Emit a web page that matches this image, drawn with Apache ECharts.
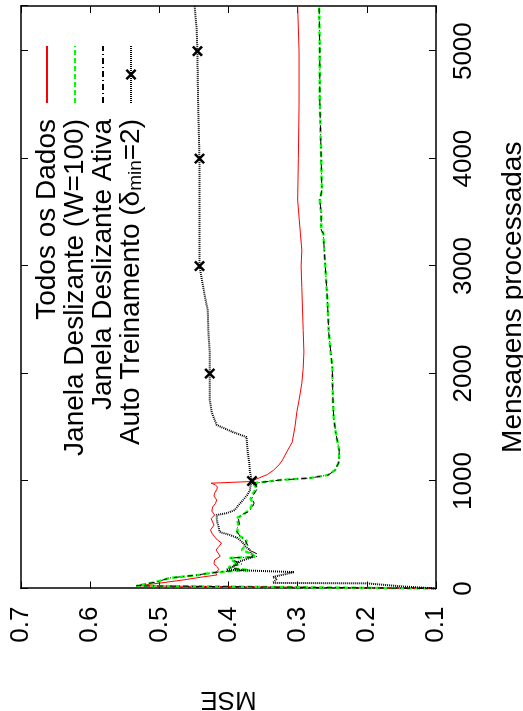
<!DOCTYPE html>
<html><head><meta charset="utf-8">
<script src="https://cdn.jsdelivr.net/npm/echarts@6/dist/echarts.min.js"></script>
<style>
html,body{margin:0;padding:0;width:523px;height:711px;overflow:hidden;background:#fff}
#chart{position:absolute;left:0;top:0;width:711px;height:523px;transform-origin:0 0;transform:translate(0,711px) rotate(-90deg);background:#fff}
</style></head><body><div id="chart"></div>
<script>
// Series: Todos os Dados
const msgR = [0, 25, 50, 79, 105, 126, 150, 175, 200, 230, 265, 300, 330, 358, 390, 423, 451, 480, 516, 545, 563, 590, 619, 650, 684, 720, 758, 790, 823, 860, 888, 920, 944, 965, 980, 995, 1028, 1060, 1100, 1150, 1195, 1280, 1360, 1500, 1650, 1753, 1910, 2050, 2200, 2400, 2600, 2800, 3000, 3149, 3300, 3614, 4000, 4500, 5000, 5420];
const mseR = [0.10, 0.533, 0.50, 0.466, 0.44, 0.417, 0.419, 0.414, 0.416, 0.421, 0.420, 0.412, 0.415, 0.418, 0.414, 0.410, 0.416, 0.420, 0.424, 0.426, 0.427, 0.421, 0.423, 0.425, 0.420, 0.424, 0.423, 0.419, 0.417, 0.421, 0.420, 0.417, 0.416, 0.419, 0.425, 0.369, 0.356, 0.344, 0.335, 0.327, 0.322, 0.315, 0.308, 0.304, 0.301, 0.298, 0.294, 0.292, 0.291, 0.292, 0.293, 0.294, 0.295, 0.294, 0.296, 0.300, 0.299, 0.298, 0.298, 0.300];
// Series: Janela Deslizante (W=100)
const msgG = [0, 25, 60, 98, 126, 144, 160, 172, 185, 200, 230, 260, 285, 293, 320, 358, 400, 451, 500, 544, 600, 656, 690, 712, 750, 795, 835, 870, 910, 935, 960, 981, 990, 1009, 1028, 1056, 1100, 1167, 1195, 1288, 1451, 1595, 1753, 2060, 2377, 2684, 2990, 3307, 3335, 3493, 3614, 3707, 4000, 4544, 5000, 5420];
const mseG = [0.10, 0.533, 0.505, 0.485, 0.442, 0.427, 0.40, 0.37, 0.39, 0.40, 0.385, 0.395, 0.398, 0.362, 0.365, 0.381, 0.375, 0.374, 0.387, 0.387, 0.386, 0.388, 0.378, 0.374, 0.368, 0.365, 0.368, 0.366, 0.362, 0.359, 0.362, 0.366, 0.350, 0.326, 0.282, 0.256, 0.246, 0.241, 0.240, 0.240, 0.245, 0.248, 0.249, 0.250, 0.255, 0.257, 0.260, 0.263, 0.266, 0.266, 0.268, 0.265, 0.266, 0.268, 0.268, 0.269];
// Series: Janela Deslizante Ativa
const msgAt = [0, 25, 60, 98, 126, 144, 160, 172, 185, 200, 230, 260, 285, 293, 320, 358, 400, 451, 500, 544, 600, 656, 690, 712, 750, 795, 835, 870, 910, 935, 960, 981, 990, 1009, 1028, 1056, 1100, 1167, 1195, 1288, 1451, 1595, 1753, 2060, 2377, 2684, 2990, 3307, 3335, 3493, 3614, 3707, 4000, 4544, 5000, 5420];
const mseAt = [0.10, 0.533, 0.505, 0.485, 0.445, 0.427, 0.405, 0.375, 0.392, 0.398, 0.380, 0.392, 0.396, 0.360, 0.358, 0.370, 0.372, 0.376, 0.385, 0.389, 0.384, 0.386, 0.380, 0.372, 0.366, 0.363, 0.366, 0.364, 0.360, 0.358, 0.360, 0.366, 0.350, 0.326, 0.282, 0.256, 0.246, 0.241, 0.240, 0.240, 0.245, 0.248, 0.249, 0.250, 0.255, 0.257, 0.260, 0.263, 0.266, 0.266, 0.268, 0.265, 0.266, 0.268, 0.268, 0.269];
// Series: Auto Treinamento
const msgA = [0, 20, 48, 52, 70, 90, 107, 130, 153, 170, 174, 200, 247, 293, 330, 358, 390, 423, 470, 498, 526, 570, 609, 650, 684, 702, 730, 780, 823, 870, 916, 960, 1000, 1084, 1170, 1260, 1409, 1456, 1521, 1633, 1753, 1900, 2000, 2186, 2377, 2590, 2712, 3000, 3307, 3614, 4000, 4544, 5000, 5200, 5420];
const mseA = [0.10, 0.15, 0.20, 0.336, 0.335, 0.330, 0.336, 0.320, 0.305, 0.304, 0.403, 0.394, 0.386, 0.365, 0.367, 0.369, 0.375, 0.379, 0.387, 0.398, 0.413, 0.414, 0.416, 0.417, 0.417, 0.402, 0.391, 0.385, 0.379, 0.373, 0.369, 0.368, 0.366, 0.369, 0.370, 0.372, 0.374, 0.394, 0.417, 0.424, 0.427, 0.427, 0.427, 0.427, 0.429, 0.430, 0.434, 0.442, 0.442, 0.442, 0.442, 0.444, 0.445, 0.446, 0.449];
const markerMsgs = [1000, 2000, 3000, 4000, 5000];

const names = ['Todos os Dados', 'Janela Deslizante (W=100)', 'Janela Deslizante Ativa', 'Auto Treinamento (δmin=2)'];
const xTitle = 'Mensagens processadas';
const yTitle = 'MSE';

const FONT = 'Liberation Sans';
const pairs = (xs, ys) => xs.map((x, i) => [x, ys[i]]);
const autoData = msgA.map((x, i) => markerMsgs.indexOf(x) >= 0 ? [x, mseA[i]] : { value: [x, mseA[i]], symbol: 'none' });
const XPATH = 'path://M0,1.6L1.6,0L5,3.4L8.4,0L10,1.6L6.6,5L10,8.4L8.4,10L5,6.6L1.6,10L0,8.4L3.4,5Z';

const chart = echarts.init(document.getElementById('chart'), null, { renderer: 'canvas' });
const frameLine = { show: true, onZero: false, lineStyle: { color: '#000', width: 1.5 } };
const tick = { show: true, inside: true, length: 7, lineStyle: { color: '#000', width: 1 } };
chart.setOption({
  animation: false,
  backgroundColor: '#fff',
  grid: { left: 122.5, right: 6, top: 21, bottom: 87, containLabel: false, outerBoundsMode: 'none' },
  legend: {
    orient: 'vertical', right: 40, top: 28, itemWidth: 57, itemHeight: 14, itemGap: 0, align: 'right',
    selectedMode: false,
    textStyle: { fontFamily: FONT, fontSize: 28, color: '#000', lineHeight: 28, padding: [0, 11, 0, 0],
      rich: { sub: { fontFamily: FONT, fontSize: 19, lineHeight: 19, verticalAlign: 'bottom', color: '#000' } } },
    formatter: n => n.replace('δmin', 'δ{sub|min}'),
    data: [
      { name: names[0], itemStyle: { opacity: 0 } },
      { name: names[1], itemStyle: { opacity: 0 } },
      { name: names[2], itemStyle: { opacity: 0 } },
      { name: names[3] }
    ]
  },
  xAxis: [
    { type: 'value', position: 'bottom', min: 0, max: 5420, interval: 1000,
      axisLine: frameLine, axisTick: tick, splitLine: { show: false },
      axisLabel: { fontFamily: FONT, fontSize: 26, color: '#000', margin: 15, showMaxLabel: false,
        formatter: v => (v % 1000 === 0 ? String(v) : '') },
      name: xTitle, nameLocation: 'middle', nameGap: 63,
      nameTextStyle: { fontFamily: FONT, fontSize: 28, color: '#000' } },
    { type: 'value', position: 'top', min: 0, max: 5420, interval: 1000,
      axisLine: frameLine, axisTick: tick, splitLine: { show: false }, axisLabel: { show: false } }
  ],
  yAxis: [
    { type: 'value', position: 'left', min: 0.1, max: 0.7, interval: 0.1,
      axisLine: frameLine, axisTick: tick, splitLine: { show: false },
      axisLabel: { fontFamily: FONT, fontSize: 26, color: '#000', margin: 18, formatter: v => v.toFixed(1) },
      name: yTitle, nameLocation: 'middle', nameGap: 98, nameRotate: 90,
      nameTextStyle: { fontFamily: FONT, fontSize: 26, color: '#000' } },
    { type: 'value', position: 'right', min: 0.1, max: 0.7, interval: 0.1,
      axisLine: frameLine, axisTick: tick, splitLine: { show: false }, axisLabel: { show: false } }
  ],
  series: [
    { name: names[0], type: 'line', data: pairs(msgR, mseR), symbol: 'none', showSymbol: false,
      lineStyle: { color: '#ff0000', width: 1 }, itemStyle: { color: '#ff0000' } },
    { name: names[1], type: 'line', data: pairs(msgG, mseG), symbol: 'none', showSymbol: false,
      lineStyle: { color: '#00ff00', width: 2.4, type: [5, 3] }, itemStyle: { color: '#00ff00' } },
    { name: names[2], type: 'line', data: pairs(msgAt, mseAt), symbol: 'none', showSymbol: false,
      lineStyle: { color: '#000', width: 1, type: [6, 3, 1, 3] }, itemStyle: { color: '#000' } },
    { name: names[3], type: 'line', data: autoData, symbol: XPATH, symbolSize: 11, showSymbol: true, showAllSymbol: true,
      lineStyle: { color: '#000', width: 2, type: [1, 1] }, itemStyle: { color: '#000' } }
  ]
});
</script></body></html>
